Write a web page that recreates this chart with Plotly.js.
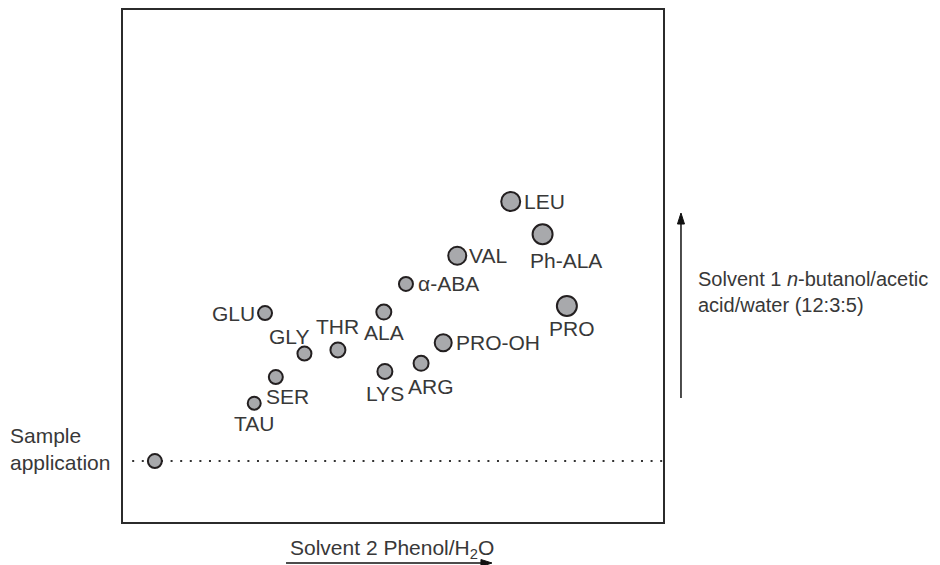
<!DOCTYPE html>
<html><head><meta charset="utf-8">
<script src="https://cdn.plot.ly/plotly-3.0.1.min.js"></script>
<style>html,body{margin:0;padding:0;background:#fff}</style>
</head><body><div id="chart" style="width:940px;height:565px"></div>
<script>
// ---- Data: relative migration (fraction of sheet) in each solvent ----
const aminoAcids = ['TAU','SER','GLY','THR','GLU','ALA','LYS','ARG','PRO-OH','α-ABA','VAL','LEU','Ph-ALA','PRO'];
const rfSolvent2 = [0.243,0.283,0.336,0.398,0.263,0.483,0.485,0.552,0.593,0.524,0.619,0.718,0.777,0.822];
const rfSolvent1 = [0.232,0.283,0.329,0.336,0.408,0.410,0.294,0.310,0.350,0.465,0.520,0.626,0.562,0.422];
const sampleX = [0.059];
const sampleY = [0.119];

// ---- Styles ----
const FONT = 'Liberation Sans, Arial, Helvetica, sans-serif';
const TXT = '#383838';
const INK = '#231f20';
const spotDiameter = {'TAU':15,'SER':16,'GLY':16,'THR':17,'GLU':16,'ALA':17,'LYS':17,'ARG':17,'PRO-OH':19,'α-ABA':16,'VAL':20,'LEU':21,'Ph-ALA':22,'PRO':22};
const labelStyle = {
  'TAU':   {xa:'center', dx:0,   dy:-20},
  'SER':   {xa:'center', dx:12,  dy:-19},
  'GLY':   {xa:'center', dx:-15, dy:17},
  'THR':   {xa:'center', dx:0,   dy:23},
  'GLU':   {xa:'right',  dx:-8,  dy:0},
  'ALA':   {xa:'center', dx:0,   dy:-20},
  'LYS':   {xa:'center', dx:0,   dy:-22},
  'ARG':   {xa:'center', dx:10,  dy:-23},
  'PRO-OH':{xa:'left',   dx:11,  dy:0},
  'α-ABA': {xa:'left',   dx:10,  dy:0},
  'VAL':   {xa:'left',   dx:10,  dy:0},
  'LEU':   {xa:'left',   dx:11,  dy:0},
  'Ph-ALA':{xa:'center', dx:23,  dy:-26},
  'PRO':   {xa:'center', dx:5,   dy:-23}
};

const spotTrace = {
  type:'scatter', mode:'markers', x:rfSolvent2, y:rfSolvent1, cliponaxis:false,
  hoverinfo:'text', text:aminoAcids,
  marker:{size:aminoAcids.map(a=>spotDiameter[a]-2), opacity:1, color:'#a8a9ac', line:{color:INK, width:2}}
};
const sampleTrace = {
  type:'scatter', mode:'markers', x:sampleX, y:sampleY, cliponaxis:false, hoverinfo:'skip',
  marker:{size:14, opacity:1, color:'#a8a9ac', line:{color:INK, width:2}}
};

const labelAnns = aminoAcids.map((a,i)=>({
  x:rfSolvent2[i], y:rfSolvent1[i], xref:'x', yref:'y', text:a, showarrow:false,
  xanchor:labelStyle[a].xa, yanchor:'middle', xshift:labelStyle[a].dx, yshift:labelStyle[a].dy,
  font:{family:FONT, size:21, color:TXT}
}));

const otherAnns = [
  {xref:'paper', yref:'paper', x:-0.213, y:0.1426, xanchor:'left', yanchor:'middle', align:'left',
   text:'Sample<br>application', showarrow:false, font:{family:FONT, size:21, color:TXT}},
  {xref:'paper', yref:'paper', x:1.0611, y:0.449, xanchor:'left', yanchor:'middle', align:'left',
   text:'Solvent 1 <i>n</i>-butanol/acetic<br>acid/water (12:3:5)', showarrow:false, font:{family:FONT, size:20, color:TXT}},
  {xref:'paper', yref:'paper', x:0.3056, y:-0.0527, xanchor:'left', yanchor:'middle',
   text:'Solvent 2 Phenol/H<sub>2</sub>O', showarrow:false, font:{family:FONT, size:21, color:TXT}}
];

// Direction arrows (paper coordinates)
const arrowLine = {color:'#111', width:1.5};
const arrowShapes = [
  {type:'line', xref:'paper', yref:'paper', x0:1.0333, x1:1.0333, y0:0.2422, y1:0.59, line:arrowLine},
  {type:'path', xref:'paper', yref:'paper', path:'M1.0333,0.6035 L1.02682,0.582 L1.03978,0.582 Z',
   fillcolor:'#111', line:{color:'#111', width:1}},
  {type:'line', xref:'paper', yref:'paper', x0:0.3019, x1:0.67, y0:-0.0801, y1:-0.0801, line:arrowLine},
  {type:'path', xref:'paper', yref:'paper', path:'M0.6833,-0.0801 L0.6629,-0.07326 L0.6629,-0.08694 Z',
   fillcolor:'#111', line:{color:'#111', width:1}}
];

const axisStyle = {range:[0,1], showgrid:false, zeroline:false, showticklabels:false, ticks:'',
  showline:true, mirror:true, linewidth:2, linecolor:'#2b2b2b', fixedrange:true};

const layout = {
  width:940, height:565, margin:{l:123, r:277, t:10, b:43},
  paper_bgcolor:'#fff', plot_bgcolor:'#fff', showlegend:false,
  xaxis:axisStyle, yaxis:Object.assign({}, axisStyle),
  shapes:[{type:'line', xref:'x', yref:'y', x0:0.017, x1:1.0, y0:sampleY[0], y1:sampleY[0], layer:'below',
    line:{color:'#333', width:2, dash:'2px,7.6px'}}].concat(arrowShapes),
  annotations:labelAnns.concat(otherAnns)
};

Plotly.newPlot('chart', [sampleTrace, spotTrace], layout, {displayModeBar:false, staticPlot:true});
</script>
</body></html>
